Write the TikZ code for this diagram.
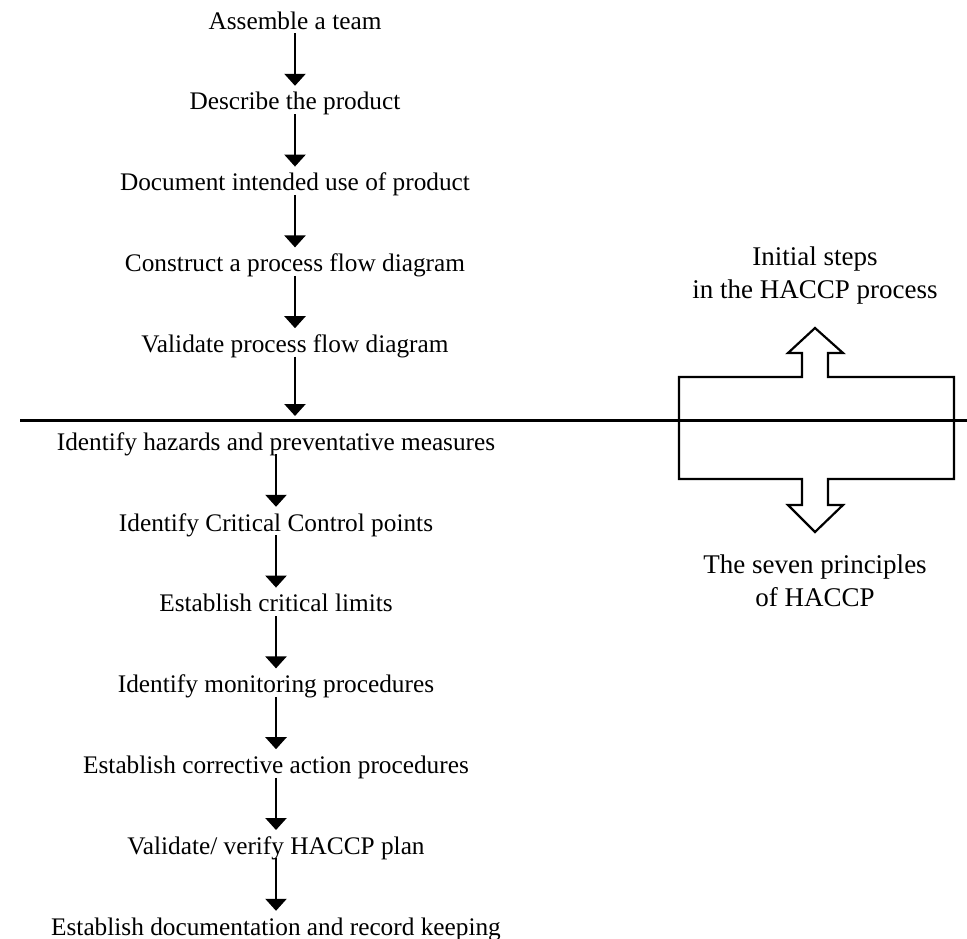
\documentclass[tikz,border=0pt]{standalone}
\usepackage{fontspec}
\setmainfont{Liberation Serif}
\usetikzlibrary{arrows.meta, positioning}
\tikzset{
  stage/.style={inner sep=0pt, text height=24pt, text depth=4pt, font=\fontsize{25.3}{30}\selectfont},
  note/.style={align=center, inner sep=0pt, font=\fontsize{27}{33}\selectfont},
  flow/.style={-{Triangle[width=21pt, length=12pt]}, line width=2.4pt},
  divider/.style={line width=2.2pt},
  bigarrow/.style={line width=2.2pt, line join=miter}
}

\begin{document}
\begin{tikzpicture}[x=1pt, y=1pt, node distance=52.4pt]
\useasboundingbox (0,0) rectangle (967,-939);
% initial steps
\node[stage, anchor=north] (team) at (295,-5) {Assemble a team};
\node[stage, below=of team] (desc) {Describe the product};
\node[stage, below=of desc] (use) {Document intended use of product};
\node[stage, below=of use] (flowd) {Construct a process flow diagram};
\node[stage, below=of flowd] (val) {Validate process flow diagram};
\coordinate (cut) at (295,-416);
\draw[flow] (team)--(desc); \draw[flow] (desc)--(use); \draw[flow] (use)--(flowd); \draw[flow] (flowd)--(val); \draw[flow] (val.south)--(cut);
\draw[divider] (20,-420.5) -- (967,-420.5);
% seven principles
\node[stage, anchor=north] (haz) at (276,-426) {Identify hazards and preventative measures};
\node[stage, below=of haz] (ccp) {Identify Critical Control points};
\node[stage, below=of ccp] (lim) {Establish critical limits};
\node[stage, below=of lim] (mon) {Identify monitoring procedures};
\node[stage, below=of mon] (corr) {Establish corrective action procedures};
\node[stage, below=of corr] (ver) {Validate/ verify HACCP plan};
\node[stage, below=of ver] (rec) {Establish documentation and record keeping};
\draw[flow] (haz)--(ccp); \draw[flow] (ccp)--(lim); \draw[flow] (lim)--(mon); \draw[flow] (mon)--(corr); \draw[flow] (corr)--(ver); \draw[flow] (ver)--(rec);
% double arrow
\draw[bigarrow] (679,-377) -- (802,-377) -- (802,-353) -- (788,-353) -- (815,-328) -- (843,-353) -- (828,-353) -- (828,-377)
  -- (954,-377) -- (954,-479) -- (828,-479) -- (828,-505) -- (843,-505) -- (815,-532) -- (788,-505) -- (802,-505) -- (802,-479)
  -- (679,-479) -- cycle;
\node[note] (up) at (815,-276) {Initial steps\\ in the HACCP process};
\node[note] (down) at (815,-581) {The seven principles\\ of HACCP};
\end{tikzpicture}
\end{document}
